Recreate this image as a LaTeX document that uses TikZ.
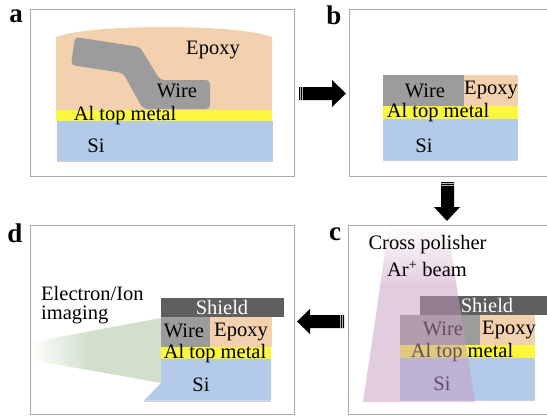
\documentclass[tikz,border=0pt]{standalone}
\usepackage{fontspec}
\setmainfont{Liberation Serif}
\definecolor{epoxyc}{HTML}{F3D1AE}
\definecolor{wirec}{HTML}{9C9C9C}
\definecolor{alc}{HTML}{FAF73E}
\definecolor{sic}{HTML}{B3CAE8}
\definecolor{shieldc}{HTML}{5F5F5F}
\definecolor{framec}{HTML}{ABABAB}
\definecolor{beamc}{HTML}{E3CDE0}
\definecolor{beamsolid}{HTML}{C79BC1}
\definecolor{greenc}{HTML}{D2E0CB}
\tikzset{x=1pt,y=-1pt,
 frame/.style={draw=framec,line width=1pt},
 bigarrow/.style={fill=black,draw=none},
 tailstripe/.style={draw=white,line width=.5pt,opacity=.7},
 lab/.style={font=\fontsize{20.5}{22}\selectfont,inner sep=0pt,text=black},
 panel/.style={font=\fontsize{27}{27}\bfseries\selectfont,inner sep=0pt,text=black},
 under/.style={draw=black!18,line width=.8pt}}
\begin{document}
\begin{tikzpicture}
\useasboundingbox (0,0) rectangle (547,416);
\fill[white] (0,0) rectangle (547,416);
% frames
\draw[frame] (30,9) rectangle (294.5,176);
\draw[frame] (349,9) -- (547,9) (349,9) -- (349,176) -- (547,176);
\draw[frame] (348,225) -- (547,225) (348,225) -- (348,414) -- (547,414);
\draw[frame] (30,225) rectangle (294.5,414);
% panel a
\fill[epoxyc] (56,110) -- (56,37) .. controls (75,30) and (120,27) .. (164,27) .. controls (208,27) and (253,30) .. (272,37) -- (272,110) -- cycle;
\fill[alc] (56,110) rectangle (272,121);
\draw[under] (57,161.5) -- (273,161.5);
\fill[sic] (57,121) rectangle (273,161);
\fill[wirec,rounded corners=4pt] (75,37) -- (140,47) -- (160,80) -- (210,80) -- (210,109) -- (143,109) -- (123,73) -- (71,65) -- cycle;
\node[lab] (aepoxy) at (213,50) {Epoxy};
\node[lab] (awire) at (177,91) {Wire};
\node[lab] (aal) at (125,116) {Al top metal};
\node[lab] (asi) at (96,146) {Si};
\node[panel] (la) at (16,16) {a};
% panel b
\fill[wirec] (383,75) rectangle (464,106);
\fill[epoxyc] (464,75) rectangle (518,106);
\fill[alc] (383,106) rectangle (518,119);
\draw[under] (383,160.5) -- (518,160.5);
\fill[sic] (383,119) rectangle (518,160);
\node[lab] (bwire) at (425,91) {Wire};
\node[lab] (bepoxy) at (491,90) {Epoxy};
\node[lab] (bal) at (438,113) {Al top metal};
\node[lab] (bsi) at (424,146) {Si};
\node[panel] (lb) at (334,15) {b};
% panel c
\fill[shieldc] (420,296) rectangle (547,315);
\fill[wirec] (400,315) rectangle (480,345);
\fill[epoxyc] (480,315) rectangle (535,345);
\fill[alc] (400,345) rectangle (535,358);
\draw[under] (400,400.5) -- (535,400.5);
\fill[sic] (400,358) rectangle (535,400);
\node[lab,text=white] (cshield) at (487,305) {Shield};
\node[lab] (cwire) at (443,329) {Wire};
\node[lab] (cepoxy) at (509,330) {Epoxy};
\node[lab] (cal) at (462,353) {Al top metal};
\node[lab] (csi) at (442,384) {Si};
\foreach \i in {0,...,29}{
  \pgfmathsetmacro\ya{226+2*\i}
  \pgfmathsetmacro\yb{\ya+2.3}
  \pgfmathsetmacro\la{389-26*(\ya-225)/177}
  \pgfmathsetmacro\lb{389-26*(\yb-225)/177}
  \pgfmathsetmacro\ra{447+28*(\ya-225)/177}
  \pgfmathsetmacro\rb{447+28*(\yb-225)/177}
  \pgfmathsetmacro\pc{100*(\i+1)/30}
  \fill[beamc!\pc!white] (\la,\ya) -- (\ra,\ya) -- (\rb,\yb) -- (\lb,\yb) -- cycle;
}
\fill[beamsolid,fill opacity=.5] (380.2,286) -- (456.6,286) -- (475,402) -- (363,402) -- cycle;
\node[lab] (ccross) at (427.5,245) {Cross polisher};
\node[lab] (car) at (427,269) {Ar\textsuperscript{+} beam};
\node[panel] (lc) at (335,234) {c};
% panel d
\foreach \i in {0,...,28}{
  \pgfmathsetmacro\xa{32+2*\i}
  \pgfmathsetmacro\xb{\xa+2.3}
  \pgfmathsetmacro\ta{342-24*(\xa-32)/129}
  \pgfmathsetmacro\tb{342-24*(\xb-32)/129}
  \pgfmathsetmacro\ba{360+23*(\xa-32)/129}
  \pgfmathsetmacro\bb{360+23*(\xb-32)/129}
  \pgfmathsetmacro\pc{100*(\i+1)/29}
  \fill[greenc!\pc!white] (\xa,\ta) -- (\xb,\tb) -- (\xb,\bb) -- (\xa,\ba) -- cycle;
}
\fill[greenc] (90,331.2) -- (161,318) -- (161,383) -- (90,370.3) -- cycle;
\fill[shieldc] (161,298) rectangle (284,317);
\fill[wirec] (161,317) rectangle (210,347);
\fill[epoxyc] (210,317) rectangle (272,347);
\fill[alc] (161,347) rectangle (271,359);
\draw[under] (144,401) -- (271,401);
\fill[sic] (161,359) -- (271,359) -- (271,400.5) -- (144,400.5) -- (161,383) -- cycle;
\node[lab,text=white] (dshield) at (222,307) {Shield};
\node[lab] (dwire) at (184,331) {Wire};
\node[lab] (depoxy) at (241,332) {Epoxy};
\node[lab] (dal) at (215,354) {Al top metal};
\node[lab] (dsi) at (201,385) {Si};
\node[lab,anchor=west] (delec) at (41,293) {Electron/Ion};
\node[lab,anchor=west] (dimg) at (41,315) {imaging};
\node[panel] (ld) at (15,233) {d};
% arrows
\fill[bigarrow] (299,87) -- (332,87) -- (332,80) -- (346,93.5) -- (332,107) -- (332,100) -- (299,100) -- cycle;
\draw[tailstripe] (300.5,87) -- (300.5,100) (302.5,87) -- (302.5,100);
\fill[bigarrow] (441,182) -- (454,182) -- (454,207) -- (460,207) -- (447,221) -- (434,207) -- (441,207) -- cycle;
\draw[tailstripe] (441,183.5) -- (454,183.5) (441,185.5) -- (454,185.5);
\fill[bigarrow] (344,315) -- (310,315) -- (310,309) -- (297,321.5) -- (310,334) -- (310,328) -- (344,328) -- cycle;
\draw[tailstripe] (342.5,315) -- (342.5,328) (340.5,315) -- (340.5,328);
\end{tikzpicture}
\end{document}
